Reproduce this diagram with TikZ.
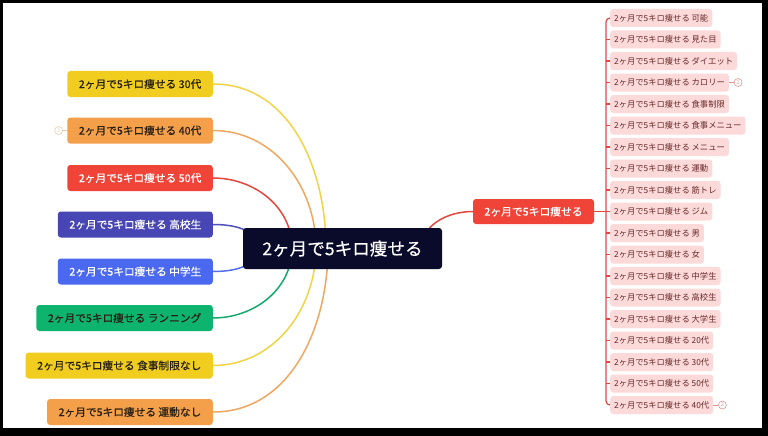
\documentclass[tikz,border=0pt]{standalone}
\usepackage{fontspec}
\setmainfont{Noto Sans CJK JP}
\newfontfamily\medfont{Noto Sans CJK JP}[FakeBold=0.5]
\pgfdeclarelayer{bg}
\pgfdeclarelayer{background}
\pgfsetlayers{bg,background,main}
\definecolor{rootc}{RGB}{10,10,42}
\definecolor{yelc}{RGB}{240,205,30}
\definecolor{orac}{RGB}{244,160,74}
\definecolor{redc}{RGB}{240,68,56}
\definecolor{indc}{RGB}{72,70,180}
\definecolor{bluc}{RGB}{75,105,240}
\definecolor{grnc}{RGB}{14,180,110}
\definecolor{pinkc}{RGB}{252,218,218}
\definecolor{leaftxt}{RGB}{105,40,40}
\definecolor{darktxt}{RGB}{40,32,20}
\definecolor{yell}{RGB}{240,212,70}
\definecolor{oral}{RGB}{240,168,96}
\definecolor{redl}{RGB}{226,72,62}
\definecolor{indl}{RGB}{82,80,190}
\definecolor{blul}{RGB}{82,112,232}
\definecolor{grnl}{RGB}{20,170,110}
\definecolor{cntl}{RGB}{225,205,180}
\definecolor{cntr}{RGB}{222,150,150}
\newcommand\kbase{2ヶ月で5キロ痩せる}
\begin{document}
\begin{tikzpicture}[x=1pt,y=-1pt,
  leftbox/.style={rounded corners=3pt, anchor=east, minimum height=26pt, inner xsep=11.5pt, inner ysep=0pt, font=\medfont\fontsize{10.7}{13}\selectfont},
  rootbox/.style={fill=rootc, text=white, rounded corners=3pt, minimum width=199pt, minimum height=41pt, inner sep=0pt, font=\medfont\fontsize{17.6}{20}\selectfont},
  midbox/.style={fill=redc, text=white, rounded corners=3pt, minimum width=121pt, minimum height=25pt, inner sep=0pt, font=\medfont\fontsize{10.8}{13}\selectfont},
  leaf/.style={fill=pinkc, text=leaftxt, rounded corners=3pt, anchor=west, minimum height=18pt, inner xsep=4pt, inner ysep=0pt, font=\fontsize{8.3}{10}\selectfont},
  counter/.style={circle, draw=#1, text=#1, line width=0.6pt, inner sep=0pt, minimum size=8pt, font=\fontsize{5}{5}\selectfont},
  link/.style={line width=1.5pt, draw=#1},
  rlink/.style={line width=1.2pt, draw=redl}
]
\begin{pgfonlayer}{bg}
\fill[black] (0,0) rectangle (768,436);
\fill[white] (3,3) rectangle (762,428);
\end{pgfonlayer}
\useasboundingbox (0,0) rectangle (768,436);

% root and main branch
\node[rootbox] (root) at (342.5,248.5) {\kbase};
\node[midbox] (mid) at (533.5,211.5) {\kbase};

% left children
\node[leftbox, fill=yelc, text=darktxt] (l1) at (213,84) {\kbase{} 30代};
\node[leftbox, fill=orac, text=darktxt] (l2) at (213,130.5) {\kbase{} 40代};
\node[leftbox, fill=redc, text=white] (l3) at (213,178) {\kbase{} 50代};
\node[leftbox, fill=indc, text=white] (l4) at (213,224.5) {\kbase{} 高校生};
\node[leftbox, fill=bluc, text=white] (l5) at (213,271.5) {\kbase{} 中学生};
\node[leftbox, fill=grnc, text=darktxt] (l6) at (213,318) {\kbase{} ランニング};
\node[leftbox, fill=yelc, text=darktxt] (l7) at (213,365.5) {\kbase{} 食事制限なし};
\node[leftbox, fill=orac, text=darktxt] (l8) at (213,412) {\kbase{} 運動なし};

% right leaves
\node[leaf] (r1) at (610,18) {\kbase{} 可能};
\node[leaf] (r2) at (610,39.5) {\kbase{} 見た目};
\node[leaf] (r3) at (610,61) {\kbase{} ダイエット};
\node[leaf] (r4) at (610,82.5) {\kbase{} カロリー};
\node[leaf] (r5) at (610,104) {\kbase{} 食事制限};
\node[leaf] (r6) at (610,125.5) {\kbase{} 食事メニュー};
\node[leaf] (r7) at (610,147) {\kbase{} メニュー};
\node[leaf] (r8) at (610,168.5) {\kbase{} 運動};
\node[leaf] (r9) at (610,190) {\kbase{} 筋トレ};
\node[leaf] (r10) at (610,211.5) {\kbase{} ジム};
\node[leaf] (r11) at (610,233) {\kbase{} 男};
\node[leaf] (r12) at (610,254.5) {\kbase{} 女};
\node[leaf] (r13) at (610,276) {\kbase{} 中学生};
\node[leaf] (r14) at (610,297.5) {\kbase{} 高校生};
\node[leaf] (r15) at (610,319) {\kbase{} 大学生};
\node[leaf] (r16) at (610,340.5) {\kbase{} 20代};
\node[leaf] (r17) at (610,362) {\kbase{} 30代};
\node[leaf] (r18) at (610,383.5) {\kbase{} 50代};
\node[leaf] (r19) at (610,405) {\kbase{} 40代};

% collapsed counters
\path (l2.west) ++(-8.5,0) node[counter=cntl] (k1) {2};
\path (r4.east) ++(9,0) node[counter=cntr] (k2) {2};
\path (r19.east) ++(9,0) node[counter=cntr] (k3) {2};

% end points inside root
\coordinate (e1) at (326,248);
\coordinate (e2) at (316,248);
\coordinate (e3) at (292,248);
\coordinate (e4) at (257,248);
\coordinate (e5) at (257,248);
\coordinate (e6) at (292,248);
\coordinate (e7) at (316,248);
\coordinate (e8) at (328,248);
\coordinate (e9) at (421,250);
\coordinate (spine) at (606,211.5);

\begin{pgfonlayer}{background}
\draw[link=yell] (l1.east) to[out=0,in=90] (e1);
\draw[link=oral] (l2.east) to[out=0,in=90] (e2);
\draw[link=redl] (l3.east) to[out=0,in=90] (e3);
\draw[link=indl] (l4.east) to[out=0,in=90] (e4);
\draw[link=blul] (l5.east) to[out=0,in=-90] (e5);
\draw[link=grnl] (l6.east) to[out=0,in=-90] (e6);
\draw[link=yell] (l7.east) to[out=0,in=-90] (e7);
\draw[link=oral] (l8.east) to[out=0,in=-90] (e8);
\draw[link=redl] (e9) to[out=90,in=180] (mid.west);
\draw[rlink] (mid.east) -- (spine);
\draw[rlink, rounded corners=4pt] (r1.west) -| (spine) |- (r19.west);
\foreach \i in {2,...,18} {
  \draw[rlink] (r\i.west -| spine) -- (r\i.west);
}
\draw[line width=0.6pt, draw=cntl] (k1) -- (l2.west);
\draw[line width=0.6pt, draw=cntr] (r4.east) -- (k2);
\draw[line width=0.6pt, draw=cntr] (r19.east) -- (k3);
\end{pgfonlayer}
\end{tikzpicture}
\end{document}
